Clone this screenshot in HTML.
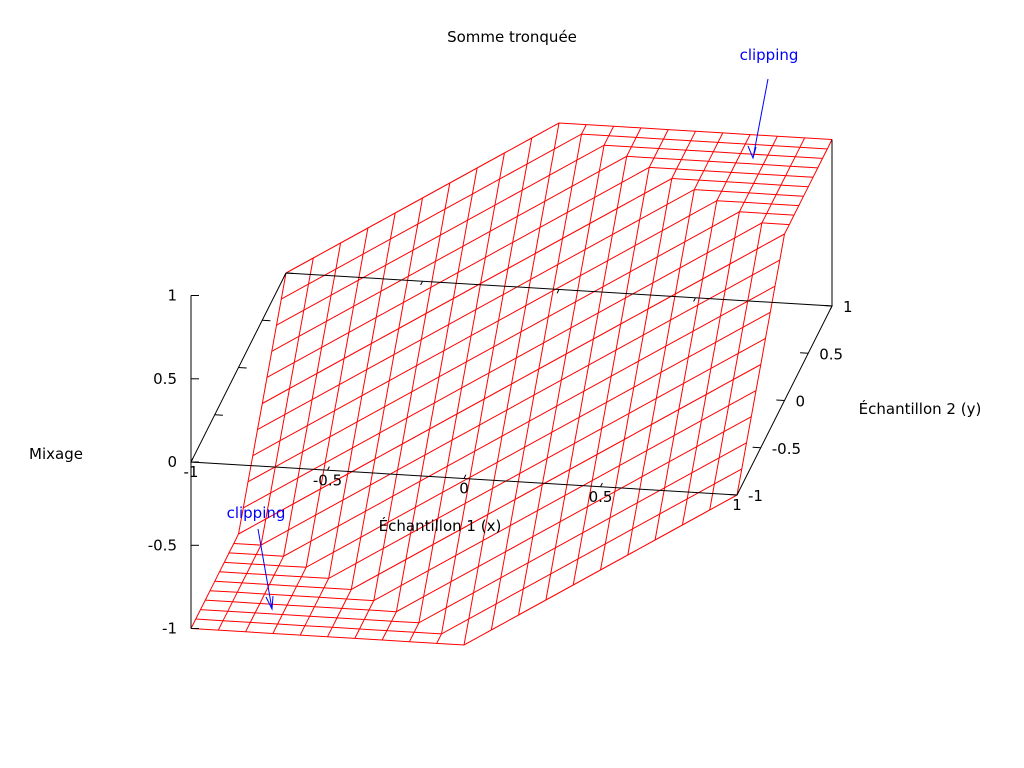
<!DOCTYPE html>
<html><head><meta charset="utf-8"><style>
body{margin:0;background:#fff}
svg{display:block}
text{font-family:"DejaVu Sans","Liberation Sans",sans-serif;font-size:15px;fill:#000}
</style></head><body>
<svg id="chart" width="1024" height="768" viewBox="0 0 1024 768">
<text x="512" y="42" text-anchor="middle">Somme tronquée</text>
<g id="mesh"></g>
<g id="axes"></g>
<text x="56" y="459" text-anchor="middle">Mixage</text>
<text x="440" y="531" text-anchor="middle">Échantillon 1 (x)</text>
<text x="920" y="414" text-anchor="middle">Échantillon 2 (y)</text>
<text x="769" y="60" text-anchor="middle" style="fill:#00f">clipping</text>
<text x="256" y="518" text-anchor="middle" style="fill:#00f">clipping</text>
<g stroke="#00f" fill="none" stroke-width="1">
<path d="M768 79 L753 158 M748 146 L753 158 L756 147"/>
<path d="M258 529 L272 609 M266 597 L272 609 L273 596"/>
</g>
</svg>
<script>
const xTicks=[-1,-0.5,0,0.5,1];
const yTicks=[-1,-0.5,0,0.5,1];
const zTicks=[-1,-0.5,0,0.5,1];
const samples=[-1,-0.9,-0.8,-0.7,-0.6,-0.5,-0.4,-0.3,-0.2,-0.1,0,0.1,0.2,0.3,0.4,0.5,0.6,0.7,0.8,0.9,1];
const clipMin=-1, clipMax=1;
function f(x,y){return Math.max(clipMin,Math.min(clipMax,x+y));}
const O=[191,462], EX=[546,33], EY=[95,-189], EZ=166.5;
function P(x,y,z){const u=(x+1)/2,v=(y+1)/2;return [O[0]+u*EX[0]+v*EY[0], O[1]+u*EX[1]+v*EY[1]-z*EZ];}
const NS='http://www.w3.org/2000/svg';
const mesh=document.getElementById('mesh'), axes=document.getElementById('axes');
function line(g,pts,stroke,name){
  const p=document.createElementNS(NS,'polyline');
  p.setAttribute('points',pts.map(q=>q[0].toFixed(1)+','+q[1].toFixed(1)).join(' '));
  p.setAttribute('fill','none');p.setAttribute('stroke',stroke);p.setAttribute('stroke-width','1');
  
  
  g.appendChild(p);
}
function text(x,y,s,anchor,name){
  const t=document.createElementNS(NS,'text');
  t.setAttribute('x',x);t.setAttribute('y',y);t.setAttribute('text-anchor',anchor);t.textContent=s;
  
  
  axes.appendChild(t);
}
samples.forEach(y=>line(mesh,samples.map(x=>P(x,y,f(x,y))),'#ff0000','mesh-line-x'));
samples.forEach(x=>line(mesh,samples.map(y=>P(x,y,f(x,y))),'#ff0000','mesh-line-y'));
line(axes,[P(-1,1,0),P(-1,-1,0),P(1,-1,0),P(1,1,0),P(-1,1,0)],'#000','base-frame');
line(axes,[P(-1,-1,clipMin),P(-1,-1,clipMax)],'#000','z-axis');
line(axes,[P(1,1,0),P(1,1,clipMax)],'#000','back-vertical');
zTicks.forEach(z=>{const a=P(-1,-1,z);line(axes,[a,[a[0]+8,a[1]]],'#000','z-tick');
 text(a[0]-14,a[1]+5,String(z),'end','z-tick-label');});
xTicks.forEach(x=>{const a=P(x,-1,0),b=P(x,-0.96,0);line(axes,[a,b],'#000','x-tick');
 const c=P(x,1,0),d=P(x,0.96,0);line(axes,[c,d],'#000','x-tick-mirror');
 text(a[0],a[1]+15,String(x),'middle','x-tick-label');});
yTicks.forEach(y=>{const a=P(1,y,0),b=P(0.97,y,0);line(axes,[a,b],'#000','y-tick');
 const c=P(-1,y,0),d=P(-0.97,y,0);line(axes,[c,d],'#000','y-tick-mirror');
 text(a[0]+11,a[1]+6,String(y),'start','y-tick-label');});
</script>
</body></html>
